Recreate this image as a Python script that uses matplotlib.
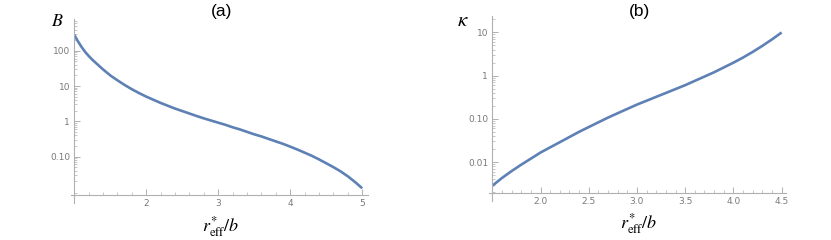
import numpy as np
import matplotlib
matplotlib.use("Agg")
import matplotlib.pyplot as plt
from matplotlib.ticker import FixedLocator, NullFormatter

# ---- data ----
r_a = [1.0, 1.05, 1.1, 1.15, 1.2, 1.25, 1.3, 1.4, 1.5, 1.6, 1.7, 1.8, 1.9, 2.0,
       2.1, 2.2, 2.3, 2.4, 2.5, 2.6, 2.7, 2.8, 2.9, 3.0, 3.1, 3.2, 3.3, 3.4, 3.5,
       3.6, 3.7, 3.8, 3.9, 4.0, 4.1, 4.2, 4.3, 4.4, 4.5, 4.6, 4.7, 4.8, 4.9, 5.0]
B_vals = [282, 186, 129, 93, 71, 56, 45, 29.5, 20, 14.5, 10.7, 8.1, 6.3, 5.0,
          4.07, 3.31, 2.75, 2.29, 1.95, 1.66, 1.41, 1.21, 1.05, 0.912, 0.794, 0.676,
          0.589, 0.501, 0.427, 0.372, 0.316, 0.269, 0.229, 0.191, 0.158, 0.129,
          0.105, 0.083, 0.0646, 0.0501, 0.038, 0.0275, 0.019, 0.0126]

r_b = [1.5, 1.6, 1.7, 1.8, 1.9, 2.0, 2.1, 2.2, 2.3, 2.4, 2.5, 2.6, 2.7, 2.8, 2.9,
       3.0, 3.1, 3.2, 3.3, 3.4, 3.5, 3.6, 3.7, 3.8, 3.9, 4.0, 4.1, 4.2, 4.3, 4.4, 4.5]
kappa_vals = [0.00282, 0.00427, 0.00617, 0.0087, 0.012, 0.0166, 0.0219, 0.0288,
              0.038, 0.0501, 0.0646, 0.0832, 0.107, 0.135, 0.17, 0.214, 0.263,
              0.324, 0.398, 0.49, 0.603, 0.759, 0.955, 1.2, 1.55, 2.0, 2.63,
              3.55, 4.9, 6.92, 10.0]

a_xticks = [2, 3, 4, 5]
a_xticklabels = ["2", "3", "4", "5"]
a_yticks = [100, 10, 1, 0.1]
a_yticklabels = ["100", "10", "1", "0.10"]

b_xticks = [2.0, 2.5, 3.0, 3.5, 4.0, 4.5]
b_xticklabels = ["2.0", "2.5", "3.0", "3.5", "4.0", "4.5"]
b_yticks = [10, 1, 0.1, 0.01]
b_yticklabels = ["10", "1", "0.10", "0.01"]

LINE = "#5e81b5"
AX = "#b0b0b0"
TXT = "#7a7a7a"

plt.rcParams["mathtext.fontset"] = "stix"

fig = plt.figure(figsize=(8.31, 2.40), dpi=100)


def style(ax, xlim, ylim, xticks, xlabels, xminor, yticks, ylabels, title, title_y,
          ylab, ylab_x, ylab_y, ylab_size):
    ax.set_yscale("log")
    ax.set_xlim(*xlim)
    ax.set_ylim(*ylim)
    for s in ax.spines.values():
        s.set_visible(False)
    ax.patch.set_alpha(0)
    ax.plot([-0.012, 1.0], [0, 0], transform=ax.transAxes, color=AX, lw=0.8, clip_on=False)
    ax.plot([0, 0], [-0.045, 1.0], transform=ax.transAxes, color=AX, lw=0.8, clip_on=False)
    ax.xaxis.set_major_locator(FixedLocator(xticks))
    ax.set_xticklabels(xlabels)
    ax.xaxis.set_minor_locator(FixedLocator(xminor))
    ax.yaxis.set_major_locator(FixedLocator(yticks))
    ax.set_yticklabels(ylabels)
    lo, hi = np.log10(ylim[0]), np.log10(ylim[1])
    mn = []
    for d in range(int(np.floor(lo)), int(np.ceil(hi)) + 1):
        for m in range(2, 10):
            v = m * 10.0 ** d
            if ylim[0] < v < ylim[1]:
                mn.append(v)
    ax.yaxis.set_minor_locator(FixedLocator(mn))
    ax.yaxis.set_minor_formatter(NullFormatter())
    ax.tick_params(axis="both", which="major", direction="in", length=4, width=0.7,
                   color=AX, labelcolor=TXT, labelsize=6.5, pad=3)
    ax.tick_params(axis="both", which="minor", direction="in", length=2, width=0.5, color=AX)
    ax.text(0.5, title_y, title, transform=ax.transAxes, fontsize=12.5,
            family="Liberation Sans", ha="center", va="center")
    ax.text(ylab_x, ylab_y, ylab, transform=ax.transAxes, fontsize=ylab_size,
            ha="center", va="center")
    ax.set_xlabel(r"$r^{*}_{\mathrm{eff}}/b$", fontsize=13, labelpad=4)


ax1 = fig.add_axes([0.0894, 0.1875, 0.3534, 0.7333])
ax1.plot(r_a, B_vals, color=LINE, lw=1.9, solid_joinstyle="round", solid_capstyle="butt")
style(ax1, (1.0, 5.08), (10 ** -2.09, 10 ** 2.9), a_xticks, a_xticklabels,
      [1.2, 1.4, 1.6, 1.8, 2.2, 2.4, 2.6, 2.8, 3.2, 3.4, 3.6, 3.8, 4.2, 4.4, 4.6, 4.8, 5.0],
      a_yticks, a_yticklabels, "(a)", 1.04, r"$B$", -0.058, 0.99, 13)

ax2 = fig.add_axes([0.5924, 0.197, 0.3534, 0.736])
ax2.plot(r_b, kappa_vals, color=LINE, lw=1.9, solid_joinstyle="round", solid_capstyle="butt")
style(ax2, (1.5, 4.545), (10 ** -2.71, 10 ** 1.38), b_xticks, b_xticklabels,
      [1.6, 1.7, 1.8, 1.9, 2.1, 2.2, 2.3, 2.4, 2.6, 2.7, 2.8, 2.9, 3.1, 3.2, 3.3, 3.4,
       3.6, 3.7, 3.8, 3.9, 4.1, 4.2, 4.3, 4.4],
      b_yticks, b_yticklabels, "(b)", 1.025, r"$\kappa$", -0.1, 0.975, 15)

fig.savefig("out.png", dpi=100)
